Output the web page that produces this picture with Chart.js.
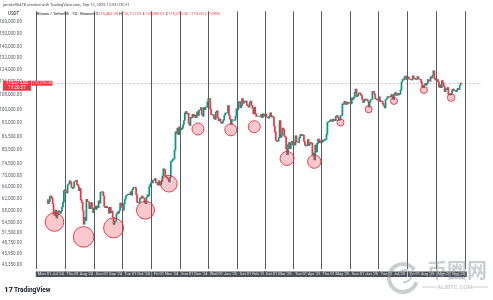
<!DOCTYPE html>
<html>
<head>
<meta charset="utf-8">
<script src="https://cdn.jsdelivr.net/npm/chart.js@4.4.1/dist/chart.umd.min.js"></script>
<style>
  html, body { margin: 0; padding: 0; background: #fff; }
  canvas { display: block; }
</style>
</head>
<body>
<canvas id="btcChart" width="493" height="300"></canvas>
<script>
// daily closes in thousands USDT, first value is the close of 27 Jun 2024
const firstDay = Date.UTC(2024, 5, 27);
const closesK = [
  61.6, 60.3, 60.9, 62.7,
  // Jul 2024
  62.8, 62.0, 60.2, 57.0, 56.6, 58.2, 55.8, 56.7, 58.0, 57.7,
  57.3, 57.9, 59.2, 60.8, 64.7, 65.0, 64.1, 63.9, 66.7, 67.1,
  68.2, 67.6, 65.9, 65.4, 65.8, 67.9, 68.0, 68.3, 66.8, 66.2, 64.6,
  // Aug 2024
  65.4, 61.5, 60.7, 58.1, 54.0, 56.0, 55.1, 61.7, 60.9, 60.9,
  58.7, 59.4, 60.6, 58.7, 57.5, 58.9, 59.5, 58.4, 59.5, 59.0,
  61.2, 60.4, 64.1, 64.2, 64.2, 62.9, 59.4, 59.0, 59.4, 59.1, 58.9,
  // Sep 2024
  57.3, 59.1, 57.5, 57.9, 56.1, 53.9, 54.8, 54.9, 57.0, 57.6,
  57.3, 58.1, 60.5, 59.9, 59.1, 58.2, 60.3, 61.8, 62.9, 63.1,
  63.3, 63.5, 63.3, 64.2, 63.1, 65.1, 65.8, 65.8, 65.6, 63.3,
  // Oct 2024
  60.8, 60.6, 60.7, 62.1, 62.0, 62.8, 62.2, 62.1, 60.6, 60.3,
  62.4, 63.2, 62.8, 66.0, 67.0, 67.6, 67.4, 68.4, 68.4, 69.0,
  67.4, 67.4, 66.7, 68.2, 66.6, 67.0, 67.9, 69.9, 72.7, 72.3, 70.2,
  // Nov 2024
  69.5, 69.3, 68.7, 67.8, 69.4, 75.6, 75.9, 76.5, 76.7, 80.4,
  88.7, 88.0, 90.5, 87.4, 91.1, 90.6, 89.8, 90.5, 92.3, 94.3,
  98.3, 98.9, 97.7, 98.0, 93.0, 91.9, 95.9, 95.6, 97.5, 96.4,
  // Dec 2024
  97.2, 95.8, 96.0, 98.8, 96.9, 99.8, 99.8, 101.1, 97.4, 96.6,
  101.1, 100.0, 101.4, 101.4, 104.3, 106.1, 106.1, 100.2, 97.5, 97.2,
  97.2, 95.2, 94.9, 98.7, 99.3, 95.8, 94.2, 95.1, 93.7, 92.8, 93.4,
  // Jan 2025
  94.6, 96.9, 98.1, 98.2, 98.3, 102.2, 96.9, 95.0, 92.5, 94.7,
  94.5, 94.5, 94.5, 96.5, 100.5, 99.9, 104.1, 104.4, 101.1, 102.0,
  106.1, 103.6, 103.9, 104.7, 104.7, 102.6, 102.0, 101.3, 103.7, 104.7, 102.4,
  // Feb 2025
  100.6, 97.7, 101.4, 97.9, 96.6, 96.6, 96.5, 96.5, 96.5, 97.4,
  95.8, 97.8, 96.6, 97.5, 97.6, 96.1, 95.8, 95.5, 96.6, 98.3,
  96.1, 96.6, 96.1, 91.5, 88.7, 84.7, 84.3, 84.4,
  // Mar 2025
  86.0, 94.3, 86.1, 87.2, 90.6, 89.9, 86.7, 86.2, 80.7, 78.5,
  82.9, 83.7, 81.0, 83.9, 84.3, 82.6, 84.0, 82.7, 86.8, 84.2,
  84.0, 83.8, 86.0, 87.3, 87.5, 86.9, 87.2, 84.3, 82.6, 82.3, 82.5,
  // Apr 2025
  85.1, 82.5, 83.1, 83.8, 83.5, 78.4, 79.1, 76.3, 82.6, 79.6,
  83.4, 85.3, 83.7, 84.5, 83.6, 84.0, 84.9, 84.5, 85.1, 85.2,
  87.5, 93.4, 93.7, 93.9, 94.7, 94.6, 93.8, 95.0, 94.3, 94.2,
  // May 2025
  96.5, 96.9, 95.9, 94.3, 94.7, 96.8, 97.0, 103.2, 102.9, 104.6,
  104.1, 102.8, 104.1, 103.5, 103.7, 103.5, 103.1, 106.5, 105.6, 106.8,
  109.7, 111.7, 107.3, 107.8, 109.0, 109.4, 108.9, 107.8, 105.6, 103.9, 104.6,
  // Jun 2025
  105.8, 105.8, 105.4, 104.7, 101.5, 104.3, 105.6, 105.7, 110.3, 110.2,
  108.7, 105.9, 106.0, 105.4, 105.6, 107.1, 104.5, 104.9, 104.6, 103.3,
  102.1, 100.9, 105.6, 106.0, 107.3, 106.9, 107.0, 107.3, 108.4, 107.1,
  // Jul 2025
  105.7, 108.8, 109.6, 108.0, 108.2, 109.2, 108.2, 108.9, 111.3, 115.9,
  117.5, 117.4, 119.1, 119.8, 117.7, 118.7, 119.2, 117.9, 117.8, 117.3,
  117.4, 119.9, 118.5, 118.3, 117.6, 117.9, 119.4, 118.0, 117.8, 117.8, 115.7,
  // Aug 2025
  113.3, 112.5, 114.2, 115.1, 114.1, 115.0, 117.5, 116.6, 116.5, 119.3,
  118.7, 120.1, 123.3, 118.3, 117.3, 117.4, 117.5, 116.2, 112.9, 114.3,
  112.5, 116.9, 115.4, 113.5, 110.1, 111.8, 111.3, 112.6, 108.4, 108.8, 108.3,
  // Sep 2025
  109.2, 111.2, 111.7, 110.7, 110.7, 110.2, 111.2, 112.1, 111.5, 113.9, 115.4, 115.275
];

const monthStarts = ['2024-07-01', '2024-08-01', '2024-09-01', '2024-10-01', '2024-11-01',
  '2024-12-01', '2025-01-01', '2025-02-01', '2025-03-01', '2025-04-01', '2025-05-01',
  '2025-06-01', '2025-07-01', '2025-08-01', '2025-09-01'];
const monthLabels = ["Mon 01 Jul '24", "Thu 01 Aug '24", "Sun 01 Sep '24", "Tue 01 Oct '24",
  "Fri 01 Nov '24", "Sun 01 Dec '24", "Wed 01 Jan '25", "Sat 01 Feb '25", "Sat 01 Mar '25",
  "Tue 01 Apr '25", "Thu 01 May '25", "Sun 01 Jun '25", "Tue 01 Jul '25", "Fri 01 Aug '25",
  "Mon 01 Sep '25"];

const yTicks = [160000, 150000, 140000, 132000, 124000, 116000, 108000, 100000, 93000, 86500,
  80500, 74500, 70000, 66000, 62000, 58000, 54500, 51500, 48750, 45950, 43350];

// marked lows (circles)
const circleDates = ['2024-07-05', '2024-08-05', '2024-09-06', '2024-10-10', '2024-11-04',
  '2024-12-05', '2025-01-09', '2025-02-03', '2025-03-10', '2025-04-08', '2025-05-06',
  '2025-06-05', '2025-07-02', '2025-08-03', '2025-09-01'];
const circlePricesK = [54.6, 50.4, 52.9, 58.2, 67.1, 90.1, 89.7, 91.2, 76.9, 75.6, 93.3,
  100.2, 104.8, 111.2, 106.7];
const circleSizes = [9.3, 10.3, 10, 9, 8.3, 6, 6, 6, 7, 6.7, 3.5, 3.5, 3.5, 3.5, 3.8];

const lastPrice = 115275;
const titleText = 'jamies96478 created with TradingView.com, Sep 12, 2025 12:33 UTC+1';
const legendParts = [
  ['Bitcoin / TetherUS · 1D · Binance ', '#131722'],
  ['O', '#131722'], ['115,462.00 ', '#f23645'],
  ['H', '#131722'], ['116,121.01 ', '#f23645'],
  ['L', '#131722'], ['115,080.01 ', '#f23645'],
  ['C', '#131722'], ['115,275.00 ', '#f23645'],
  ['−110.00 (−0.09%)', '#f23645']
];

const UP = '#089981', DOWN = '#f23645';
const FONT = 'Roboto, "Liberation Sans", sans-serif';

function dayIndex(s) {
  return Math.round((Date.parse(s + 'T00:00:00Z') - firstDay) / 86400000);
}

let bars = [], barColors = [];
for (let i = 1; i < closesK.length; i++) {
  let o = closesK[i - 1] * 1000, c = closesK[i] * 1000;
  bars.push({x: i, y: [o, c]});
  barColors.push(c >= o ? UP : DOWN);
}

let circles = circleDates.map((d, i) => ({x: dayIndex(d), y: circlePricesK[i] * 1000, r: circleSizes[i]}));

const overlay = {
  id: 'overlay',
  beforeDatasetsDraw(chart) {
    let ctx = chart.ctx, a = chart.chartArea;
    let yp = chart.scales.y.getPixelForValue(lastPrice);
    ctx.save();
    ctx.strokeStyle = 'rgba(242,54,69,0.35)';
    ctx.setLineDash([2, 2]);
    ctx.lineWidth = 1;
    ctx.beginPath();
    ctx.moveTo(a.left, Math.round(yp) + 0.5);
    ctx.lineTo(a.right, Math.round(yp) + 0.5);
    ctx.stroke();
    ctx.restore();
  },
  afterDraw(chart) {
    let ctx = chart.ctx, a = chart.chartArea;
    let xs = chart.scales.x, ys = chart.scales.y;
    ctx.save();

    // header
    ctx.textBaseline = 'middle';
    ctx.textAlign = 'left';
    ctx.fillStyle = '#4a4a4a';
    ctx.font = '4px ' + FONT;
    ctx.fillText(titleText, 3, 5);
    ctx.font = '4.5px ' + FONT;
    ctx.fillStyle = '#131722';
    ctx.fillText('USDT', 8, 14);
    let lx = 37;
    ctx.font = '4px ' + FONT;
    legendParts.forEach(p => {
      ctx.fillStyle = p[1];
      ctx.fillText(p[0], lx, 14);
      lx += ctx.measureText(p[0]).width;
    });

    // price label
    let yp = ys.getPixelForValue(lastPrice);
    ctx.fillStyle = DOWN;
    ctx.fillRect(3, yp - 2.5, 28, 10);
    ctx.fillRect(31.5, yp - 2.5, 21, 5);
    ctx.fillStyle = '#fff';
    ctx.textAlign = 'center';
    ctx.font = '4.5px ' + FONT;
    ctx.fillText('115,275.00', 17, yp);
    ctx.fillText('11:26:57', 17, yp + 5);
    ctx.font = '4px ' + FONT;
    ctx.fillStyle = '#ffd6d9';
    ctx.fillText('115,275.00', 42, yp);

    // month labels under the vertical lines
    ctx.beginPath();
    ctx.rect(a.left, a.bottom, chart.width - a.left, chart.height - a.bottom);
    ctx.clip();
    ctx.font = '4px ' + FONT;
    monthStarts.forEach((d, i) => {
      let px = xs.getPixelForValue(dayIndex(d));
      let w = ctx.measureText(monthLabels[i]).width + 4;
      ctx.fillStyle = '#4f5259';
      ctx.fillRect(px - w / 2, 271.5, w, 5.5);
      ctx.fillStyle = '#e6e6e6';
      ctx.fillText(monthLabels[i], px, 274.3);
    });
    ctx.restore();

    ctx.save();
    // TradingView logo
    ctx.textBaseline = 'middle';
    ctx.fillStyle = '#131722';
    ctx.font = 'bold 8px ' + FONT;
    ctx.fillText('17', 4, 290);
    ctx.font = 'bold 6.5px ' + FONT;
    ctx.fillText('TradingView', 14, 290);

    // watermark
    ctx.globalAlpha = 0.45;
    ctx.strokeStyle = '#8c9398';
    ctx.lineWidth = 4;
    ctx.beginPath();
    ctx.arc(403, 278, 14, 0.3, Math.PI * 1.8);
    ctx.stroke();
    ctx.lineWidth = 2;
    ctx.beginPath();
    ctx.arc(405, 276, 6, Math.PI, Math.PI * 2.6);
    ctx.stroke();
    ctx.fillStyle = '#8c9398';
    ctx.textAlign = 'center';
    ctx.font = 'bold 20px "Noto Sans CJK SC", sans-serif';
    ctx.fillText('币圈网', 457, 270);
    ctx.font = 'bold 6px ' + FONT;
    ctx.fillText('ALIBTC.COM', 455, 287);
    ctx.fillRect(422, 286.5, 15, 1);
    ctx.fillRect(473, 286.5, 15, 1);
    ctx.restore();
  }
};

new Chart(document.getElementById('btcChart'), {
  type: 'bar',
  data: {
    datasets: [{
      type: 'bubble',
      data: circles,
      backgroundColor: 'rgba(242,54,69,0.27)',
      borderColor: 'rgba(220,40,55,0.85)',
      borderWidth: 1,
      order: 0
    }, {
      data: bars,
      backgroundColor: barColors,
      borderWidth: 0,
      barThickness: 1.1,
      order: 1
    }]
  },
  options: {
    responsive: false,
    animation: false,
    layout: {padding: {top: 10, right: 3, left: 0, bottom: 0}},
    plugins: {legend: {display: false}, tooltip: {enabled: false}},
    scales: {
      x: {
        type: 'linear',
        min: 1,
        max: 447.6,
        afterBuildTicks: s => { s.ticks = monthStarts.map(d => ({value: dayIndex(d)})); },
        afterFit: s => { s.height = 31; },
        ticks: {display: false},
        grid: {color: '#555a60', lineWidth: 1, drawTicks: false},
        border: {display: false}
      },
      y: {
        type: 'logarithmic',
        min: 42400,
        max: 169800,
        afterBuildTicks: s => { s.ticks = yTicks.map(v => ({value: v})); },
        afterFit: s => { s.width = 33; },
        ticks: {
          padding: 3,
          color: '#5d606b',
          font: {size: 4.6, family: FONT},
          callback: v => v.toLocaleString('en-US', {minimumFractionDigits: 2, maximumFractionDigits: 2})
        },
        grid: {display: false},
        border: {display: false}
      }
    }
  },
  plugins: [overlay]
});
</script>
</body>
</html>
